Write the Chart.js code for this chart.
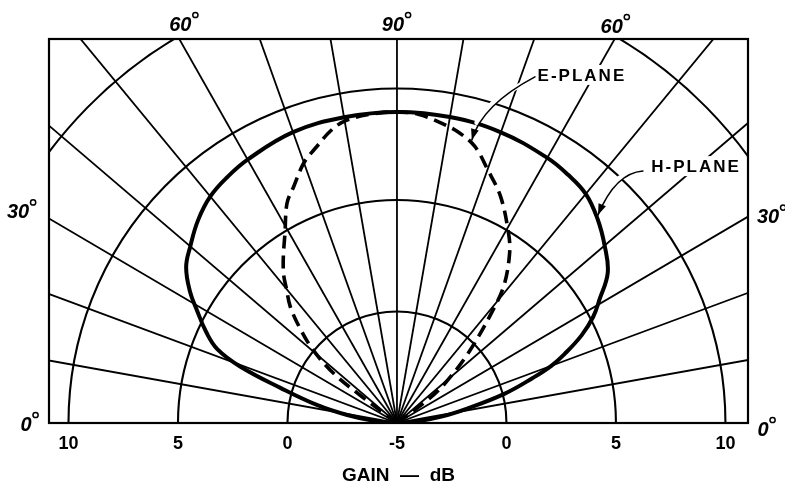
<!DOCTYPE html>
<html>
<head>
<meta charset="utf-8">
<script src="https://cdn.jsdelivr.net/npm/chart.js@4.4.1/dist/chart.umd.min.js"></script>
<style>
  html, body { margin: 0; padding: 0; background: #fff; }
  canvas { display: block; }
</style>
</head>
<body>
<canvas id="pattern" width="785" height="485"></canvas>
<script>
"use strict";

// angle in degrees (0 = right horizon, 90 = broadside, 180 = left horizon), gain in dB
const hPlaneAngles = [0, 4, 8, 11.5, 15, 18, 20, 22, 25, 28, 31, 35, 40, 45, 50, 55, 60, 70, 80, 90,
  100, 110, 120, 125, 130, 135, 140, 144, 148, 151, 155, 158, 160.5, 163.5, 167.5, 171, 175.5, 180];
const hPlaneGains = [-5, -4.2, -2.95, -1.7, 0.1, 1.5, 2.5, 3.25, 4.3, 5.15, 5.8, 6.75, 7.38, 7.95, 8.41, 8.6, 8.73, 8.87, 8.93, 8.95,
  8.92, 8.88, 8.64, 8.48, 8.26, 7.85, 7.32, 6.9, 6.15, 5.45, 4.6, 3.85, 2.6, 0.55, -1.25, -2.7, -4.1, -5];

const ePlaneAngles = [34.5, 36.5, 39, 44, 49.5, 52, 56, 59, 65, 70, 74, 78, 82, 86, 90,
  95, 100, 103, 106.5, 110, 114, 117, 121, 125, 128, 130, 133, 136, 139.5, 142.5, 143.5, 144.5];
const ePlaneGains = [-5, -3.2, -2.2, -0.45, 1.9, 3.0, 4.2, 4.9, 6.2, 7.1, 7.9, 8.35, 8.64, 8.88, 8.95,
  8.9, 8.75, 8.45, 7.92, 7.42, 6.6, 6.06, 4.93, 4.05, 3.4, 2.85, 2.15, 1.2, 0.03, -1.4, -3.0, -5];

const centerGain = -5;               // gain at the pole of the plot
const ringGains = [0, 5, 10, 15];
const spokeAngles = [0, 10, 20, 30, 40, 50, 60, 70, 80, 90, 100, 110, 120, 130, 140, 150, 160, 170, 180];

const xTickValues = [-15, -10, -5, 0, 5, 10, 15];   // radius from pole (dB above -5)
const xTickLabels = ["10", "5", "0", "-5", "0", "5", "10"];

const angleLabelAngles = [180, 150, 120, 90, 60, 30, 0];
const angleLabelTexts = ["0", "30", "60", "90", "60", "30", "0"];

const FONT = "'Liberation Sans', Arial, sans-serif";

function toPoints(angles, gains) {
  return angles.map((deg, i) => {
    const r = gains[i] - centerGain;
    const t = deg * Math.PI / 180;
    return {x: r * Math.cos(t), y: r * Math.sin(t)};
  });
}

function spokeHit(chart, deg) {
  // pixel where a spoke leaves the plot box
  const {chartArea: a, scales: {x, y}} = chart;
  const cx = x.getPixelForValue(0), cy = y.getPixelForValue(0);
  const t = deg * Math.PI / 180;
  const dx = x.getPixelForValue(Math.cos(t)) - cx;
  const dy = y.getPixelForValue(Math.sin(t)) - cy;
  let k = Infinity;
  if (dx < -1e-9) k = Math.min(k, (a.left - cx) / dx);
  if (dx > 1e-9) k = Math.min(k, (a.right - cx) / dx);
  if (dy < -1e-9) k = Math.min(k, (a.top - cy) / dy);
  if (k === Infinity) k = 0;
  return {x: cx + dx * k, y: cy + dy * k};
}

const polarGrid = {
  id: "polarGrid",
  beforeDatasetsDraw(chart) {
    const {ctx, chartArea: a, scales: {x, y}} = chart;
    const cx = x.getPixelForValue(0), cy = y.getPixelForValue(0);
    ctx.save();
    ctx.beginPath();
    ctx.rect(a.left, a.top, a.width, a.height);
    ctx.clip();
    ctx.strokeStyle = "#000";
    ctx.lineWidth = 1.8;
    spokeAngles.forEach((deg) => {
      const t = deg * Math.PI / 180;
      ctx.beginPath();
      ctx.moveTo(cx, cy);
      ctx.lineTo(x.getPixelForValue(40 * Math.cos(t)), y.getPixelForValue(40 * Math.sin(t)));
      ctx.stroke();
    });
    ctx.lineWidth = 2.1;
    ringGains.forEach((g) => {
      const r = g - centerGain;
      const rx = x.getPixelForValue(r) - cx;
      const ry = cy - y.getPixelForValue(r);
      ctx.beginPath();
      ctx.ellipse(cx, cy, rx, ry, 0, Math.PI, 2 * Math.PI);
      ctx.stroke();
    });
    ctx.restore();
  },
  afterDatasetsDraw(chart, args, opts) {
    const {ctx, chartArea: a, scales: {x, y}} = chart;
    ctx.save();
    ctx.strokeStyle = "#000";
    ctx.lineWidth = 2.2;
    ctx.strokeRect(a.left, a.top, a.width, a.height);

    // curve labels with leader arrows
    opts.callouts.forEach((c) => {
      const lx = x.getPixelForValue(c.at[0]), ly = y.getPixelForValue(c.at[1]);
      ctx.font = "bold 17px " + FONT;
      ctx.letterSpacing = "2px";
      const w = ctx.measureText(c.text).width;
      ctx.fillStyle = "#fff";
      ctx.fillRect(lx - w / 2 - 4, ly - 10, w + 8, 20);
      ctx.fillStyle = "#000";
      ctx.textAlign = "center";
      ctx.textBaseline = "middle";
      ctx.fillText(c.text, lx + 1, ly + 1);
      ctx.letterSpacing = "0px";

      const p0 = {x: x.getPixelForValue(c.from[0]), y: y.getPixelForValue(c.from[1])};
      const p1 = {x: x.getPixelForValue(c.bend[0]), y: y.getPixelForValue(c.bend[1])};
      const p2 = {x: x.getPixelForValue(c.tip[0]), y: y.getPixelForValue(c.tip[1])};
      ctx.lineCap = "round";
      ctx.strokeStyle = "#fff";
      ctx.lineWidth = 5;
      ctx.beginPath();
      ctx.moveTo(p0.x, p0.y);
      ctx.quadraticCurveTo(p1.x, p1.y, (p1.x + p2.x) / 2, (p1.y + p2.y) / 2);
      ctx.stroke();
      ctx.strokeStyle = "#000";
      ctx.lineWidth = 1.6;
      ctx.beginPath();
      ctx.moveTo(p0.x, p0.y);
      ctx.quadraticCurveTo(p1.x, p1.y, p2.x, p2.y);
      ctx.stroke();
      const ang = Math.atan2(p2.y - p1.y, p2.x - p1.x);
      ctx.beginPath();
      ctx.moveTo(p2.x, p2.y);
      ctx.lineTo(p2.x - 11 * Math.cos(ang) + 4 * Math.sin(ang), p2.y - 11 * Math.sin(ang) - 4 * Math.cos(ang));
      ctx.lineTo(p2.x - 11 * Math.cos(ang) - 4 * Math.sin(ang), p2.y - 11 * Math.sin(ang) + 4 * Math.cos(ang));
      ctx.closePath();
      ctx.fill();
    });

    // angle labels round the box
    ctx.font = "italic bold 20px " + FONT;
    ctx.textBaseline = "middle";
    ctx.textAlign = "center";
    angleLabelAngles.forEach((deg, i) => {
      const hit = spokeHit(chart, deg);
      const off = opts.angleOffsets[i];
      const tx = hit.x + off[0], ty = hit.y + off[1];
      const text = angleLabelTexts[i];
      const w = ctx.measureText(text).width;
      ctx.fillStyle = "#000";
      ctx.fillText(text, tx, ty);
      ctx.lineWidth = 1.5;
      ctx.beginPath();
      ctx.arc(tx + w / 2 + 4, ty - 10, 2.6, 0, 2 * Math.PI);
      ctx.stroke();
    });
    ctx.restore();
  }
};

const chart = new Chart(document.getElementById("pattern"), {
  type: "scatter",
  data: {
    datasets: [
      {
        label: "H-PLANE",
        data: toPoints(hPlaneAngles, hPlaneGains),
        showLine: true,
        borderColor: "#000",
        borderWidth: 4,
        pointRadius: 0,
        tension: 0.4,
        fill: false
      },
      {
        label: "E-PLANE",
        data: toPoints(ePlaneAngles, ePlaneGains),
        showLine: true,
        borderColor: "#000",
        borderWidth: 3.6,
        borderDash: [13, 7],
        pointRadius: 0,
        tension: 0.35,
        fill: false
      }
    ]
  },
  options: {
    responsive: false,
    animation: false,
    devicePixelRatio: 1,
    layout: {padding: {left: 49, right: 37, top: 39, bottom: 0}},
    scales: {
      x: {
        type: "linear",
        min: -15.89,
        max: 16.03,
        grid: {display: false, drawTicks: false},
        border: {display: false},
        afterBuildTicks: (scale) => {
          scale.ticks = xTickValues.map((v) => ({value: v}));
        },
        afterFit: (scale) => {
          scale.height = 62;
        },
        ticks: {
          autoSkip: false,
          maxRotation: 0,
          padding: 10,
          color: "#000",
          font: {family: FONT, size: 18, weight: "bold"},
          callback: (value, index) => xTickLabels[index]
        },
        title: {
          display: true,
          text: "GAIN  —  dB",
          color: "#000",
          padding: 0,
          font: {family: FONT, size: 19, weight: "bold", lineHeight: 1}
        }
      },
      y: {
        type: "linear",
        display: false,
        min: 0,
        max: 17.22
      }
    },
    plugins: {
      legend: {display: false},
      tooltip: {enabled: false},
      polarGrid: {
        callouts: [
          {text: "E-PLANE", at: [8.40, 15.61], from: [6.30, 15.52], bend: [3.88, 14.26], tip: [3.42, 12.69]},
          {text: "H-PLANE", at: [13.61, 11.52], from: [11.23, 11.30], bend: [9.98, 11.21], tip: [9.18, 9.33]}
        ],
        angleOffsets: [[-23, 2], [-31, -6], [1, -14], [-4, -14], [-3, -12], [20, 1], [15, 7]]
      }
    }
  },
  plugins: [polarGrid]
});
</script>
</body>
</html>
